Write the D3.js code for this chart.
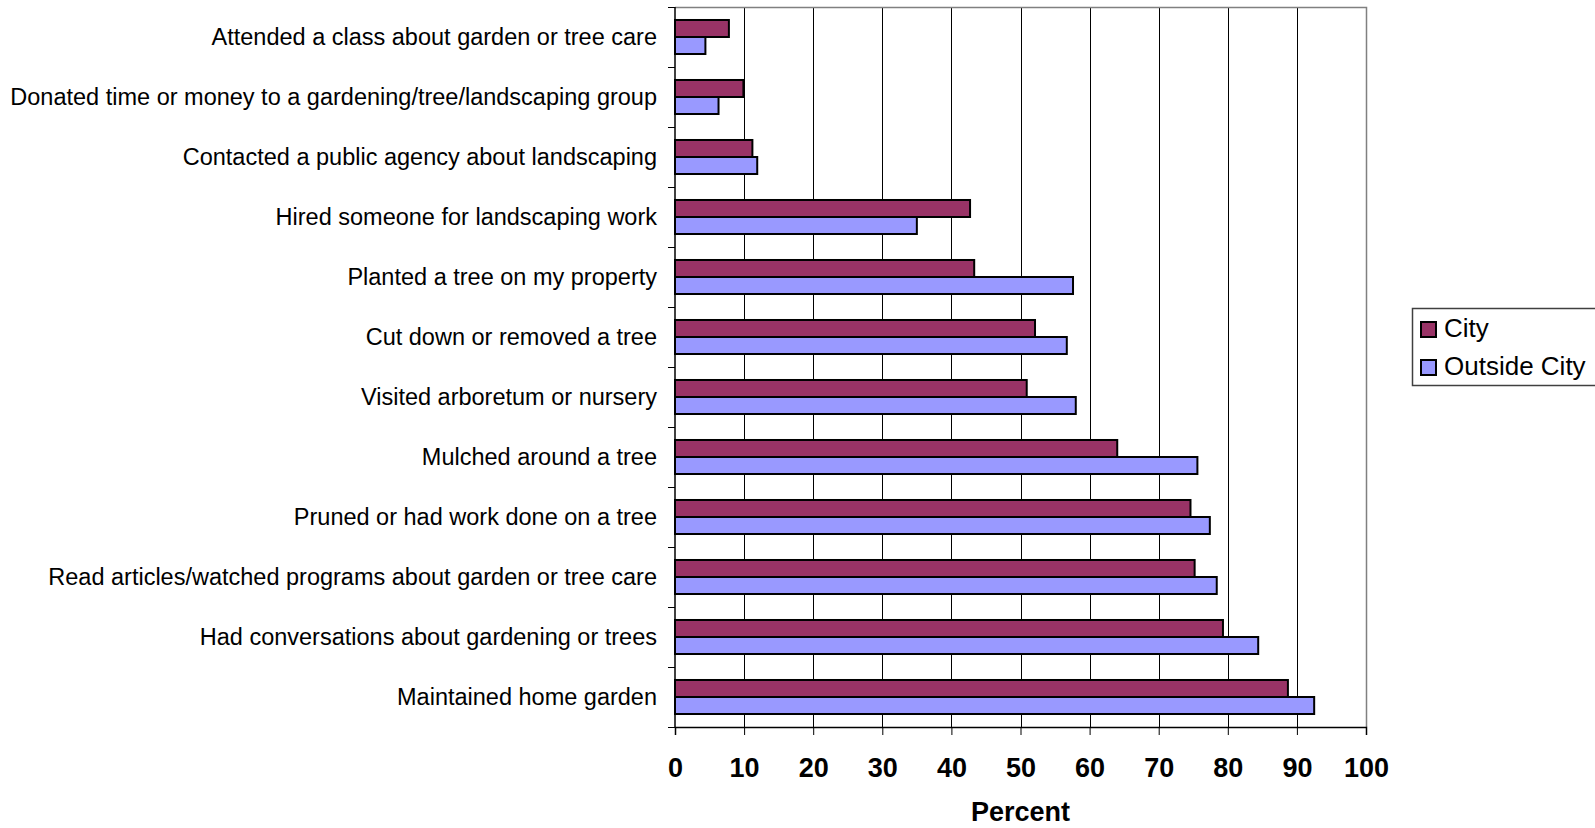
<!DOCTYPE html>
<html>
<head>
<meta charset="utf-8">
<script src="https://cdn.jsdelivr.net/npm/d3@7"></script>
<style>
  html, body { margin: 0; padding: 0; background: #fff; }
  svg { display: block; }
  text { font-family: "Liberation Sans", Arial, sans-serif; fill: #000; }
</style>
</head>
<body>
<svg id="chart" width="1595" height="828"></svg>
<script>
// Garden and tree-care activities, percent of respondents
const categories = [
  "Attended a class about garden or tree care",
  "Donated time or money to a gardening/tree/landscaping group",
  "Contacted a public agency about landscaping",
  "Hired someone for landscaping work",
  "Planted a tree on my property",
  "Cut down or removed a tree",
  "Visited arboretum or nursery",
  "Mulched around a tree",
  "Pruned or had work done on a tree",
  "Read articles/watched programs about garden or tree care",
  "Had conversations about gardening or trees",
  "Maintained home garden"
];
const seriesNames = ["City", "Outside City"];
const cityValues    = [7.8, 9.9, 11.2, 42.7, 43.3, 52.1, 50.9, 64.0, 74.6, 75.2, 79.3, 88.7];
const outsideValues = [4.4, 6.3, 11.9, 35.0, 57.6, 56.7, 58.0, 75.6, 77.4, 78.4, 84.4, 92.5];
const xTicks = [0, 10, 20, 30, 40, 50, 60, 70, 80, 90, 100];
const seriesColors = ["#993366", "#9999FF"];

const rows = categories.map((c, i) => ({
  category: c,
  values: [
    { key: seriesNames[0], value: cityValues[i] },
    { key: seriesNames[1], value: outsideValues[i] }
  ]
}));

const svg = d3.select("#chart");
const plot = { left: 675, right: 1366, top: 7, bottom: 727 };

const x = d3.scaleLinear().domain([0, 100]).range([plot.left, plot.right]);
const y = d3.scaleBand()
  .domain(categories)
  .range([plot.top, plot.bottom])
  .paddingInner(0.433)
  .paddingOuter(0.2165);
const ySub = d3.scaleBand().domain(seriesNames).range([0, y.bandwidth()]);
const color = d3.scaleOrdinal().domain(seriesNames).range(seriesColors);

// vertical gridlines
svg.append("g")
  .selectAll("line")
  .data(xTicks.filter(t => t > 0 && t < 100))
  .join("line")
  .attr("x1", d => Math.round(x(d)) + 0.5)
  .attr("x2", d => Math.round(x(d)) + 0.5)
  .attr("y1", plot.top)
  .attr("y2", plot.bottom)
  .attr("stroke", "#000")
  .attr("stroke-width", 1);

// plot area frame (top and right)
svg.append("path")
  .attr("d", `M${plot.left},${plot.top + 0.5}H${plot.right + 0.5}V${plot.bottom}`)
  .attr("fill", "none")
  .attr("stroke", "#808080")
  .attr("stroke-width", 1.5);

// bars
const groups = svg.append("g")
  .selectAll("g")
  .data(rows)
  .join("g")
  .attr("transform", d => `translate(0,${y(d.category)})`);

groups.selectAll("rect")
  .data(d => d.values)
  .join("rect")
  .attr("x", x(0))
  .attr("y", d => ySub(d.key))
  .attr("width", d => x(d.value) - x(0))
  .attr("height", ySub.bandwidth())
  .attr("fill", d => color(d.key))
  .attr("stroke", "#000")
  .attr("stroke-width", 2);

// x axis
const xAxis = svg.append("g")
  .attr("transform", `translate(0,${plot.bottom})`)
  .call(d3.axisBottom(x).tickValues(xTicks).tickSize(8).tickPadding(23).tickFormat(d3.format("d")));
xAxis.select(".domain").attr("stroke", "#000").attr("stroke-width", 1.5);
xAxis.selectAll(".tick line").attr("stroke", "#000");
xAxis.selectAll(".tick text")
  .attr("fill", "#000")
  .style("font-family", "'Liberation Sans', Arial, sans-serif")
  .style("font-size", "27px")
  .style("font-weight", "bold");

// y axis: ticks sit on the category boundaries
const boundaries = d3.range(categories.length + 1).map(i => plot.top + i * y.step());
const yAxis = svg.append("g");
yAxis.append("line")
  .attr("x1", plot.left).attr("x2", plot.left)
  .attr("y1", plot.top).attr("y2", plot.bottom)
  .attr("stroke", "#000").attr("stroke-width", 1.5);
yAxis.selectAll("line.tick")
  .data(boundaries)
  .join("line")
  .attr("class", "tick")
  .attr("x1", plot.left - 7).attr("x2", plot.left)
  .attr("y1", d => Math.round(d) + 0.5).attr("y2", d => Math.round(d) + 0.5)
  .attr("stroke", "#000").attr("stroke-width", 1);

yAxis.selectAll("text")
  .data(categories)
  .join("text")
  .attr("x", plot.left - 18)
  .attr("y", d => y(d) + y.bandwidth() / 2 + 8)
  .attr("text-anchor", "end")
  .style("font-size", "23.5px")
  .text(d => d);

// axis title
svg.append("text")
  .attr("x", (plot.left + plot.right) / 2)
  .attr("y", 821)
  .attr("text-anchor", "middle")
  .style("font-size", "27px")
  .style("font-weight", "bold")
  .text("Percent");

// legend
const legend = svg.append("g");
legend.append("rect")
  .attr("x", 1412.5).attr("y", 308.5)
  .attr("width", 200).attr("height", 77)
  .attr("fill", "#fff")
  .attr("stroke", "#404040").attr("stroke-width", 1.5);
const items = legend.selectAll("g.item")
  .data(seriesNames)
  .join("g")
  .attr("class", "item")
  .attr("transform", (d, i) => `translate(1421,${322 + i * 38})`);
items.append("rect")
  .attr("width", 15).attr("height", 15)
  .attr("fill", d => color(d))
  .attr("stroke", "#000").attr("stroke-width", 2);
items.append("text")
  .attr("x", 23).attr("y", 15)
  .style("font-size", "26px")
  .text(d => d);
</script>
</body>
</html>
